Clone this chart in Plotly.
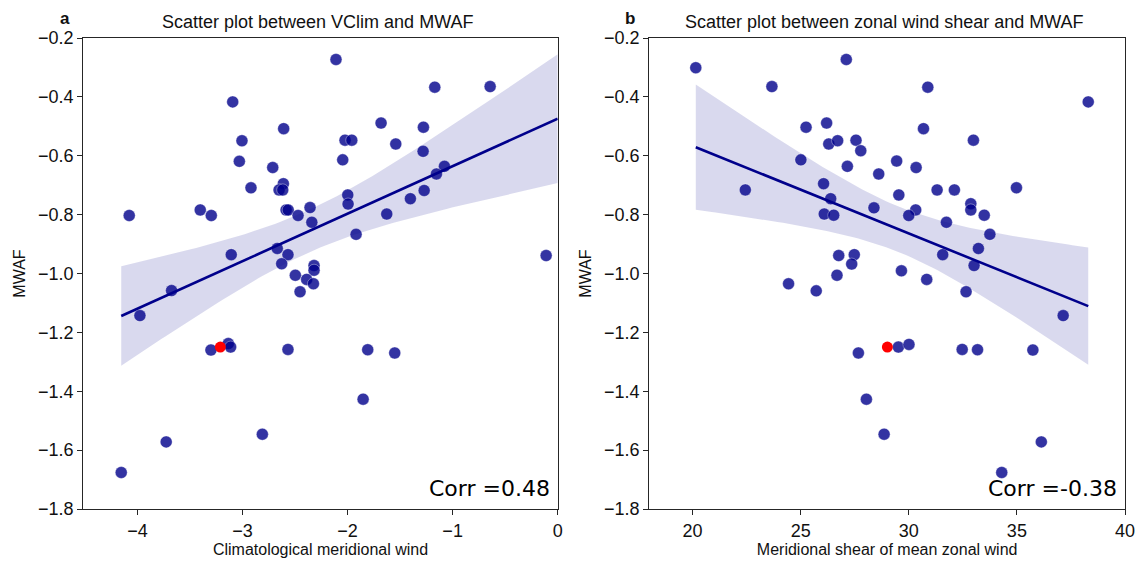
import numpy as np
import plotly.graph_objects as go

# ---- Panel a: Climatological meridional wind vs MWAF ----
vclim = [-3.093, -2.608, -3.005, -3.030, -2.712, -2.611, -2.652, -2.617, -2.919, -4.078,
         -3.402, -3.297, -2.585, -2.565, -2.471, -2.357, -2.340, -3.107, -2.669, -2.567,
         -2.627, -2.497, -2.110, -1.170, -0.643, -1.681, -1.278, -2.024, -1.960, -1.541,
         -2.046, -1.281, -1.078, -1.154, -1.271, -1.998, -1.995, -1.402, -1.627, -1.919,
         -0.110, -2.319, -2.319, -2.389, -2.325, -2.452, -1.808, -1.551, -1.852, -3.675,
         -3.976, -3.300, -3.135, -3.113, -2.567, -3.726, -4.154, -2.811]
mwaf_a = [-0.417, -0.508, -0.549, -0.619, -0.640, -0.695, -0.716, -0.716, -0.709, -0.803,
          -0.784, -0.803, -0.784, -0.784, -0.803, -0.776, -0.826, -0.936, -0.915, -0.936,
          -0.967, -1.006, -0.273, -0.367, -0.365, -0.489, -0.503, -0.547, -0.547, -0.560,
          -0.614, -0.585, -0.636, -0.662, -0.718, -0.733, -0.764, -0.746, -0.798, -0.867,
          -0.939, -0.973, -0.989, -1.020, -1.035, -1.062, -1.259, -1.270, -1.427, -1.058,
          -1.143, -1.260, -1.238, -1.250, -1.258, -1.572, -1.676, -1.546]
red_a = (-3.211, -1.250)

# ---- Panel b: Meridional shear of mean zonal wind vs MWAF ----
shear = [20.15, 23.67, 27.11, 25.25, 26.20, 26.30, 26.71, 27.56, 27.78, 25.01,
         27.16, 28.61, 22.44, 26.06, 26.39, 26.09, 26.53, 28.39, 26.76, 27.48,
         27.36, 26.68, 24.44, 30.88, 38.30, 30.68, 32.99, 29.44, 30.34, 29.54,
         31.31, 32.11, 34.98, 32.87, 32.87, 30.32, 30.00, 33.49, 31.74, 33.75,
         33.22, 31.57, 33.02, 29.66, 30.83, 32.65, 37.14, 29.52, 30.01, 32.47,
         33.18, 35.74, 28.86, 36.13, 34.30, 25.72, 27.67, 28.04]
mwaf_b = [-0.301, -0.365, -0.273, -0.503, -0.489, -0.560, -0.549, -0.547, -0.583, -0.614,
          -0.636, -0.662, -0.716, -0.695, -0.746, -0.798, -0.802, -0.777, -0.939, -0.936,
          -0.968, -1.006, -1.035, -0.367, -0.417, -0.508, -0.547, -0.618, -0.640, -0.733,
          -0.716, -0.716, -0.709, -0.763, -0.784, -0.784, -0.803, -0.802, -0.826, -0.867,
          -0.915, -0.936, -0.973, -0.991, -1.020, -1.062, -1.143, -1.250, -1.241, -1.258,
          -1.259, -1.260, -1.546, -1.572, -1.676, -1.059, -1.270, -1.427]
red_b = (29.01, -1.250)

titles = ["Scatter plot between VClim and MWAF",
          "Scatter plot between zonal wind shear and MWAF"]
xtitles = ["Climatological meridional wind", "Meridional shear of mean zonal wind"]
corr_labels = ["Corr =0.48", "Corr =-0.38"]
panel_labels = ["a", "b"]
ytick_vals = [-1.8, -1.6, -1.4, -1.2, -1.0, -0.8, -0.6, -0.4, -0.2]
ytick_text = ["−1.8", "−1.6", "−1.4", "−1.2", "−1.0", "−0.8", "−0.6", "−0.4", "−0.2"]


def fit_with_ci(x, y, x_lo, x_hi, n=100):
    x = np.asarray(x, float)
    y = np.asarray(y, float)
    b, a = np.polyfit(x, y, 1)
    xs = np.linspace(x_lo, x_hi, n)
    ys = a + b * xs
    resid = y - (a + b * x)
    s = np.sqrt(np.sum(resid ** 2) / (len(x) - 2))
    sxx = np.sum((x - x.mean()) ** 2)
    se = s * np.sqrt(1.0 / len(x) + (xs - x.mean()) ** 2 / sxx)
    t = 1.95
    return xs, ys, ys - t * se, ys + t * se


BLUE = "#00008b"
PT = "rgba(0,0,139,0.8)"
BAND = "rgba(0,0,139,0.15)"
AX = "#262626"
FONT = "Liberation Sans, Arial"

fig = go.Figure()

panels = [
    (vclim, mwaf_a, red_a, "x", "y", (min(vclim + [red_a[0]]), 0.0)),
    (shear, mwaf_b, red_b, "x2", "y2", (min(shear), max(shear))),
]

for xs_data, ys_data, red, xa, ya, (lo, hi) in panels:
    fx = list(xs_data) + [red[0]]
    fy = list(ys_data) + [red[1]]
    xs, ys, lower, upper = fit_with_ci(fx, fy, lo, hi)
    fig.add_trace(go.Scatter(x=np.concatenate([xs, xs[::-1]]),
                             y=np.concatenate([upper, lower[::-1]]),
                             fill="toself", fillcolor=BAND, line=dict(width=0),
                             mode="lines", hoverinfo="skip", showlegend=False,
                             xaxis=xa, yaxis=ya))
    fig.add_trace(go.Scatter(x=xs_data, y=ys_data, mode="markers",
                             marker=dict(size=12, color=PT,
                                         line=dict(width=0.6, color="rgba(255,255,255,0.6)")),
                             showlegend=False, xaxis=xa, yaxis=ya))
    fig.add_trace(go.Scatter(x=xs, y=ys, mode="lines",
                             line=dict(color=BLUE, width=2.6),
                             showlegend=False, xaxis=xa, yaxis=ya))
    fig.add_trace(go.Scatter(x=[red[0]], y=[red[1]], mode="markers",
                             marker=dict(size=11, color="red"),
                             showlegend=False, xaxis=xa, yaxis=ya))

W, H = 1136, 561
top, bottom = 38, 509
dom_y = [1 - bottom / H, 1 - top / H]
dom_x1 = [83.3 / W, 557.7 / W]
dom_x2 = [649.3 / W, 1125 / W]

axis_common = dict(showline=True, mirror=True, linecolor=AX, linewidth=1.2,
                   ticks="outside", ticklen=5, tickwidth=1.2, tickcolor=AX,
                   showgrid=False, zeroline=False, automargin=False,
                   tickfont=dict(family=FONT, size=18, color="#111"))
title_font = dict(family=FONT, size=16, color="#111")

fig.update_layout(
    width=W, height=H, margin=dict(l=0, r=0, t=0, b=0, autoexpand=False),
    paper_bgcolor="white", plot_bgcolor="white",
    xaxis=dict(domain=dom_x1, range=[-4.515, 0], tickvals=[-4, -3, -2, -1, 0],
               ticktext=["−4", "−3", "−2", "−1", "0"],
               title=dict(text=xtitles[0], standoff=4, font=title_font),
               anchor="y", **axis_common),
    yaxis=dict(domain=dom_y, range=[-1.8, -0.2], tickvals=ytick_vals, ticktext=ytick_text,
               title=dict(text="MWAF", standoff=8, font=title_font),
               anchor="x", **axis_common),
    xaxis2=dict(domain=dom_x2, range=[18, 40], tickvals=[20, 25, 30, 35, 40],
                title=dict(text=xtitles[1], standoff=4, font=title_font),
                anchor="y2", **axis_common),
    yaxis2=dict(domain=dom_y, range=[-1.8, -0.2], tickvals=ytick_vals, ticktext=ytick_text,
                title=dict(text="MWAF", standoff=8, font=title_font),
                anchor="x2", **axis_common),
)

annotations = []
for i, (dx, title) in enumerate(zip([dom_x1, dom_x2], titles)):
    annotations.append(dict(text=title, x=(dx[0] + dx[1]) / 2 - 3 / W, y=1 - 22 / H,
                            xref="paper", yref="paper", xanchor="center", yanchor="middle",
                            showarrow=False,
                            font=dict(family=FONT, size=18, color="#111")))
    annotations.append(dict(text="<b>" + panel_labels[i] + "</b>",
                            x=[65 / W, 630 / W][i], y=1 - 19 / H,
                            xref="paper", yref="paper", xanchor="center", yanchor="middle",
                            showarrow=False,
                            font=dict(family=FONT, size=17, color="#111")))
    annotations.append(dict(text=corr_labels[i], x=dx[1] - 6 / W, y=1 - 503 / H,
                            xref="paper", yref="paper", xanchor="right", yanchor="bottom",
                            showarrow=False,
                            font=dict(family="DejaVu Sans", size=22, color="black")))
fig.update_layout(annotations=annotations)

fig.write_html("out.html", config={"displayModeBar": False},
               post_script="document.body.style.margin='0';document.body.style.padding='0';")
